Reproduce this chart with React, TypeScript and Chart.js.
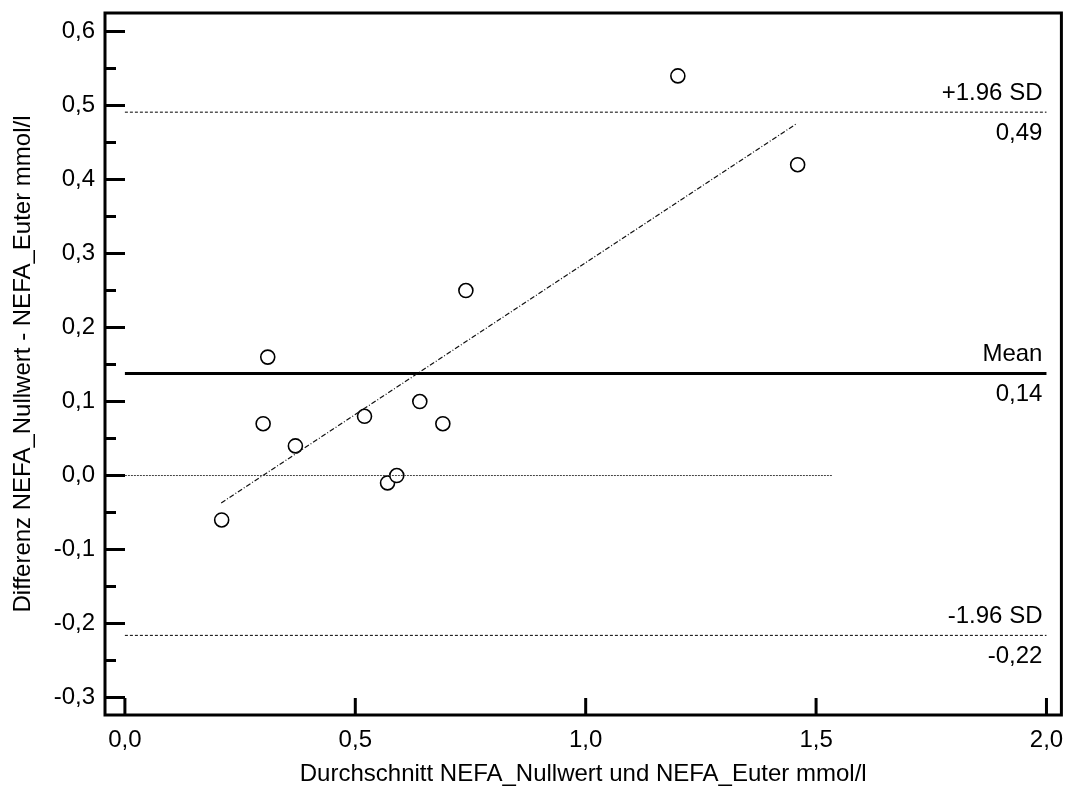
import { useEffect, useRef } from "react";
import { Chart, registerables } from "chart.js";

Chart.register(...registerables);

// Bland-Altman data: mean of both methods (x) vs. their difference (y)
const avgValues = [0.21, 0.3, 0.31, 0.37, 0.52, 0.57, 0.59, 0.64, 0.69, 0.74, 1.2, 1.46];
const diffValues = [-0.06, 0.07, 0.16, 0.04, 0.08, -0.01, 0.0, 0.1, 0.07, 0.25, 0.54, 0.42];

// Mean difference and limits of agreement
const meanDiff = 0.138;
const upperLoA = 0.491;
const lowerLoA = -0.216;
const limitSpan = [0, 2.0];
const zeroSpan = [0, 1.535];

// Regression of difference on average
const fitX = [0.209, 1.459];
const fitY = [-0.037, 0.476];

// Axis ticks and ranges
const xTicks = [0, 0.5, 1.0, 1.5, 2.0];
const yTicks = [-0.3, -0.2, -0.1, 0.0, 0.1, 0.2, 0.3, 0.4, 0.5, 0.6];
const yMinorTicks = [-0.25, -0.15, -0.05, 0.05, 0.15, 0.25, 0.35, 0.45, 0.55];
const xRange = [-0.0432, 2.0324];
const yRange = [-0.3236, 0.625];

const xTitle = "Durchschnitt NEFA_Nullwert und NEFA_Euter mmol/l";
const yTitle = "Differenz NEFA_Nullwert - NEFA_Euter mmol/l";

const FONT_FAMILY = '"Liberation Sans", Arial, Helvetica, sans-serif';
const FONT_SIZE = 24;

const fmt1 = (v: number) => (Math.abs(v) < 1e-9 ? 0 : v).toFixed(1).replace(".", ",");
const fmt2 = (v: number) => v.toFixed(2).replace(".", ",");

const pairs = (xs: number[], ys: number[]) => xs.map((x, i) => ({ x, y: ys[i] }));

const framePlugin = {
  id: "baFrame",
  afterDraw(chart: any) {
    const { ctx, chartArea: a } = chart;
    const x = chart.scales.x;
    const y = chart.scales.y;
    ctx.save();
    ctx.strokeStyle = "#000";
    ctx.lineWidth = 3;
    ctx.lineCap = "butt";
    ctx.strokeRect(a.left, a.top, a.right - a.left, a.bottom - a.top);

    ctx.beginPath();
    yTicks.forEach((v) => {
      const py = y.getPixelForValue(v);
      ctx.moveTo(a.left, py);
      ctx.lineTo(a.left + 20, py);
    });
    yMinorTicks.forEach((v) => {
      const py = y.getPixelForValue(v);
      ctx.moveTo(a.left, py);
      ctx.lineTo(a.left + 11, py);
    });
    xTicks.forEach((v) => {
      const px = x.getPixelForValue(v);
      ctx.moveTo(px, a.bottom);
      ctx.lineTo(px, a.bottom - 17);
    });
    ctx.stroke();

    ctx.fillStyle = "#000";
    ctx.font = `${FONT_SIZE}px ${FONT_FAMILY}`;
    ctx.textAlign = "right";
    ctx.textBaseline = "middle";
    const rx = x.getPixelForValue(limitSpan[1]) - 4;
    [
      { v: upperLoA, name: "+1.96 SD" },
      { v: meanDiff, name: "Mean" },
      { v: lowerLoA, name: "-1.96 SD" },
    ].forEach(({ v, name }) => {
      const py = y.getPixelForValue(v);
      ctx.fillText(name, rx, py - 19);
      ctx.fillText(fmt2(v), rx, py + 21);
    });
    ctx.restore();
  },
};

export default function App() {
  const canvasRef = useRef<HTMLCanvasElement | null>(null);

  useEffect(() => {
    if (!canvasRef.current) return;
    const font = { family: FONT_FAMILY, size: FONT_SIZE };
    const chart = new Chart(canvasRef.current, {
      type: "scatter",
      data: {
        datasets: [
          {
            label: "Zero",
            data: pairs(zeroSpan, [0, 0]),
            showLine: true,
            borderColor: "#444",
            borderWidth: 1,
            borderDash: [2, 1],
            pointRadius: 0,
          },
          {
            label: "Regression",
            data: pairs(fitX, fitY),
            showLine: true,
            borderColor: "#111",
            borderWidth: 1.2,
            borderDash: [5, 2, 1, 2],
            pointRadius: 0,
          },
          {
            label: "+1.96 SD",
            data: pairs(limitSpan, [upperLoA, upperLoA]),
            showLine: true,
            borderColor: "#000",
            borderWidth: 1,
            borderDash: [3, 2],
            pointRadius: 0,
          },
          {
            label: "-1.96 SD",
            data: pairs(limitSpan, [lowerLoA, lowerLoA]),
            showLine: true,
            borderColor: "#000",
            borderWidth: 1,
            borderDash: [3, 2],
            pointRadius: 0,
          },
          {
            label: "Mean",
            data: pairs(limitSpan, [meanDiff, meanDiff]),
            showLine: true,
            borderColor: "#000",
            borderWidth: 3,
            pointRadius: 0,
          },
          {
            label: "Differenz",
            data: pairs(avgValues, diffValues),
            showLine: false,
            pointRadius: 7,
            pointBorderWidth: 1.6,
            pointBorderColor: "#000",
            pointBackgroundColor: "#fff",
          },
        ],
      },
      options: {
        responsive: false,
        animation: false,
        devicePixelRatio: 1,
        layout: { padding: { top: 13, right: 5, left: 0, bottom: 0 } },
        plugins: {
          legend: { display: false },
          tooltip: { enabled: false },
        },
        scales: {
          x: {
            type: "linear",
            min: xRange[0],
            max: xRange[1],
            afterBuildTicks: (s: any) => {
              s.ticks = xTicks.map((v) => ({ value: v }));
            },
            afterFit: (s: any) => {
              s.height = 77;
              s.paddingLeft = 0;
              s.paddingRight = 0;
            },
            grid: { display: false, drawTicks: false },
            border: { display: false },
            ticks: {
              callback: (v: any) => fmt1(Number(v)),
              font,
              color: "#000",
              padding: 11,
              maxRotation: 0,
              autoSkip: false,
            },
            title: {
              display: true,
              text: xTitle,
              font,
              color: "#000",
              padding: { top: 0, bottom: 3 },
            },
          },
          y: {
            type: "linear",
            min: yRange[0],
            max: yRange[1],
            afterBuildTicks: (s: any) => {
              s.ticks = yTicks.map((v) => ({ value: v }));
            },
            afterFit: (s: any) => {
              s.width = 105;
              s.paddingTop = 0;
              s.paddingBottom = 0;
            },
            grid: { display: false, drawTicks: false },
            border: { display: false },
            ticks: {
              callback: (v: any) => fmt1(Number(v)),
              font,
              color: "#000",
              padding: 10,
              autoSkip: false,
            },
            title: {
              display: true,
              text: yTitle,
              font,
              color: "#000",
              padding: { top: 9, bottom: 0 },
            },
          },
        },
      },
      plugins: [framePlugin],
    });
    return () => chart.destroy();
  }, []);

  return (
    <div style={{ position: "fixed", left: 0, top: 0, width: 1070, height: 792, background: "#fff" }}>
      <canvas ref={canvasRef} width={1070} height={792} style={{ display: "block" }} />
    </div>
  );
}
